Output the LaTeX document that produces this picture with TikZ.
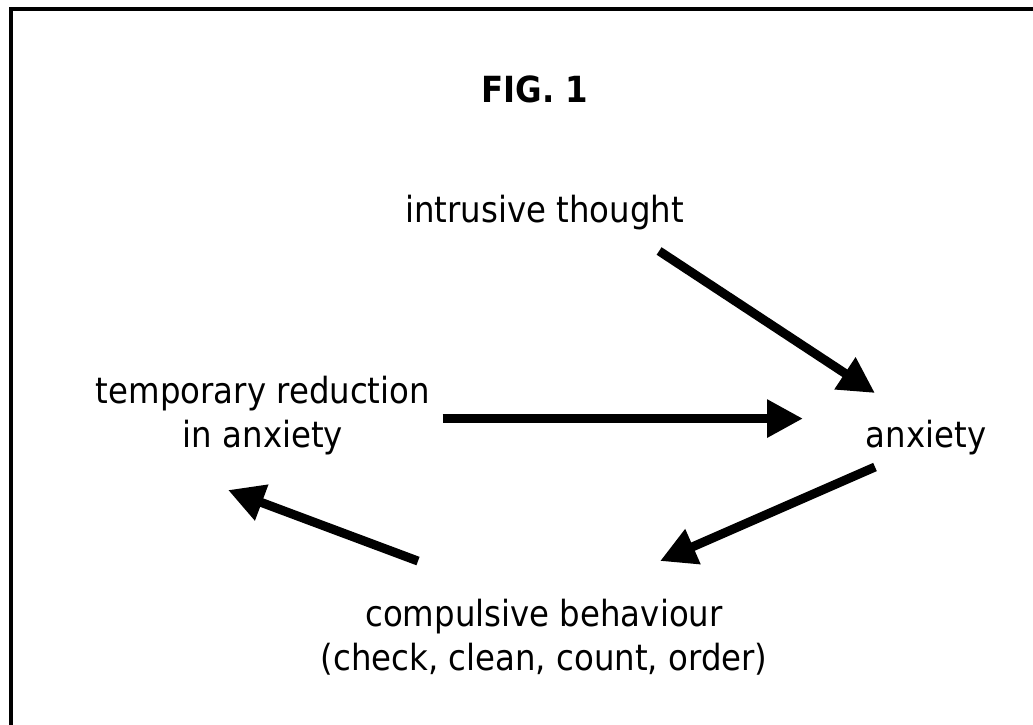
\documentclass[tikz,border=0pt]{standalone}
\usepackage{fontspec}
\setmainfont{DejaVu Sans}[FakeStretch=0.9]
\usetikzlibrary{arrows.meta}

\begin{document}
\begin{tikzpicture}[x=1pt, y=-1pt,
    txt/.style={inner sep=0pt, outer sep=0pt, align=center, font=\fontsize{36}{44}\selectfont},
    flow/.style={line width=9pt, -{Triangle[length=36pt, width=36pt]}}]
    \useasboundingbox (0,0) rectangle (1033,724);
    % Frame (right and bottom edges run off the page)
    \draw[line width=4pt] (11,9) rectangle (1060,760);

    % Title
    \node[txt, anchor=base, font=\fontsize{36}{44}\selectfont\bfseries] (fig) at (535,102) {FIG. 1};

    % Labels of the cycle
    \node[txt, anchor=base] (thought) at (544.5,222) {intrusive thought};
    \node[txt, anchor=base] (anxiety) at (926,447) {anxiety};
    \node[txt, anchor=base] (relief) at (263,447) {temporary reduction\\in anxiety};
    \node[txt, anchor=base] (compulsion) at (544,670) {compulsive behaviour\\(check, clean, count, order)};

    % Arrows round the cycle
    \draw[flow] ([shift={(-24.8,21.5)}]thought.south east) -- ([shift={(-51,-26.6)}]anxiety.north);
    \draw[flow] ([shift={(12.6,3.5)}]relief.east) -- ([shift={(-62.8,3.5)}]relief.east -| anxiety.west);
    \draw[flow] ([shift={(-51,12.5)}]anxiety.south) -- ([shift={(116,-37.6)}]compulsion.north);
    \draw[flow] ([shift={(-126,-37.6)}]compulsion.north) -- ([shift={(-35,35.5)}]relief.south);
\end{tikzpicture}
\end{document}
